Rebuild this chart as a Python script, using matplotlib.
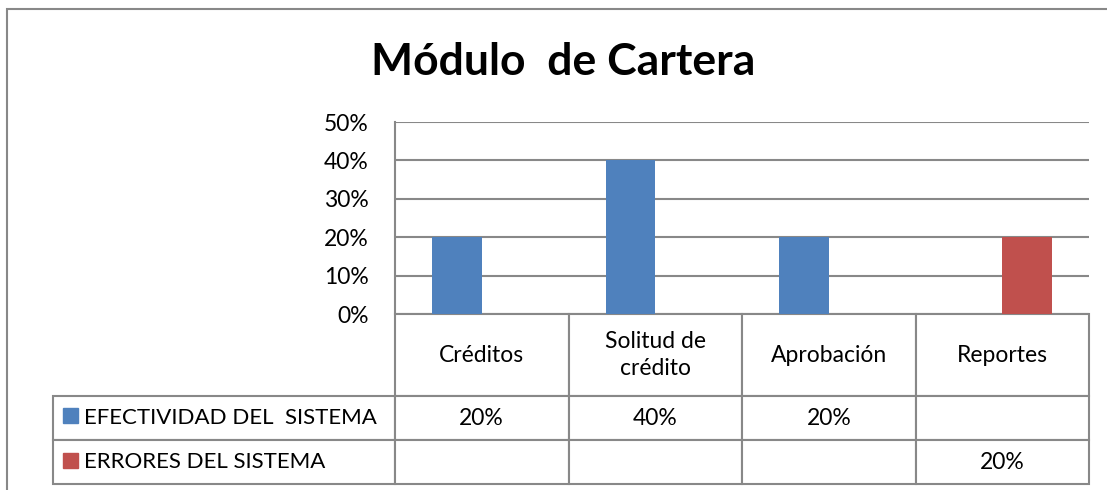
import numpy as np
import matplotlib
matplotlib.use('Agg')
import matplotlib.pyplot as plt
from matplotlib.table import Table
from matplotlib.patches import Rectangle

plt.rcParams['font.family'] = ['Lato', 'DejaVu Sans']

# datos
categorias = ['Créditos', 'Solitud de\ncrédito', 'Aprobación', 'Reportes']
series = ['EFECTIVIDAD DEL  SISTEMA', 'ERRORES DEL SISTEMA']
efectividad = [0.20, 0.40, 0.20, None]
errores = [None, None, None, 0.20]
colores = ['#4f81bd', '#c0504d']
yticks = [0.0, 0.1, 0.2, 0.3, 0.4, 0.5]

gris = '#888888'
W, H = 1107, 490
fig = plt.figure(figsize=(W / 100, H / 100), dpi=100)
ax = fig.add_axes([395 / W, 1 - 314 / H, (1089 - 395) / W, (314 - 122) / H])

x = np.arange(len(categorias))
ancho = 1 / 3.5
for i, vals in enumerate([efectividad, errores]):
    off = (i - 0.5) * ancho
    xs = [x[j] + off for j, v in enumerate(vals) if v is not None]
    hs = [v for v in vals if v is not None]
    ax.bar(xs, hs, width=ancho, color=colores[i], zorder=3)

ax.set_xlim(-0.5, len(categorias) - 0.5)
ax.set_ylim(0, 0.5)
ax.set_yticks(yticks)
ax.set_yticklabels(['%d%%' % round(v * 100) for v in yticks], fontsize=16.5)
ax.tick_params(axis='y', length=0, pad=19)
ax.set_xticks([])
ax.yaxis.grid(True, color=gris, linewidth=1.5, zorder=0)
for s in ['top', 'right', 'bottom']:
    ax.spines[s].set_visible(False)
ax.spines['left'].set_color(gris)
ax.spines['left'].set_linewidth(1.5)

# tabla de datos (anchos en fraccion del eje)
col_w = 1 / len(categorias)
lab_w = 342 / 694
h_cat, h_fila = 82 / 192, 44 / 192
tabla = Table(ax, bbox=[0, -(82 + 88) / 192, 1, (82 + 88) / 192])
tabla.auto_set_font_size(False)
for j, c in enumerate(categorias):
    tabla.add_cell(0, j, col_w, h_cat, text=c, loc='center')
for i, (nombre, vals) in enumerate(zip(series, [efectividad, errores])):
    tabla.add_cell(i + 1, -1, lab_w, h_fila, text=nombre, loc='left')
    for j, v in enumerate(vals):
        txt = '' if v is None else '%d%%' % round(v * 100)
        tabla.add_cell(i + 1, j, col_w, h_fila, text=txt, loc='center')
for (r, c), cell in tabla.get_celld().items():
    cell.set_edgecolor(gris)
    cell.set_linewidth(1.5)
    cell.get_text().set_fontsize(16.5)
    cell.get_text().set_linespacing(1.35)
    if c == -1:
        cell.PAD = 0.09
        cell.get_text().set_fontsize(16)
ax.add_table(tabla)

# claves de la leyenda
for i, yk in enumerate([423, 468]):
    ax.add_patch(Rectangle(((63 - 395) / 694, (314 - yk) / 192), 15 / 694, 15 / 192,
                           transform=ax.transAxes, color=colores[i], clip_on=False, zorder=5))

fig.text(563 / W, 1 - 62 / H, 'Módulo  de Cartera', ha='center', va='center',
         fontsize=32, fontweight='bold')

fig.add_artist(Rectangle((7 / W, -0.1), 1.0, 1.1 - 9 / H, transform=fig.transFigure,
                         fill=False, edgecolor=gris, linewidth=1.5))

fig.savefig('out.png', dpi=100)
